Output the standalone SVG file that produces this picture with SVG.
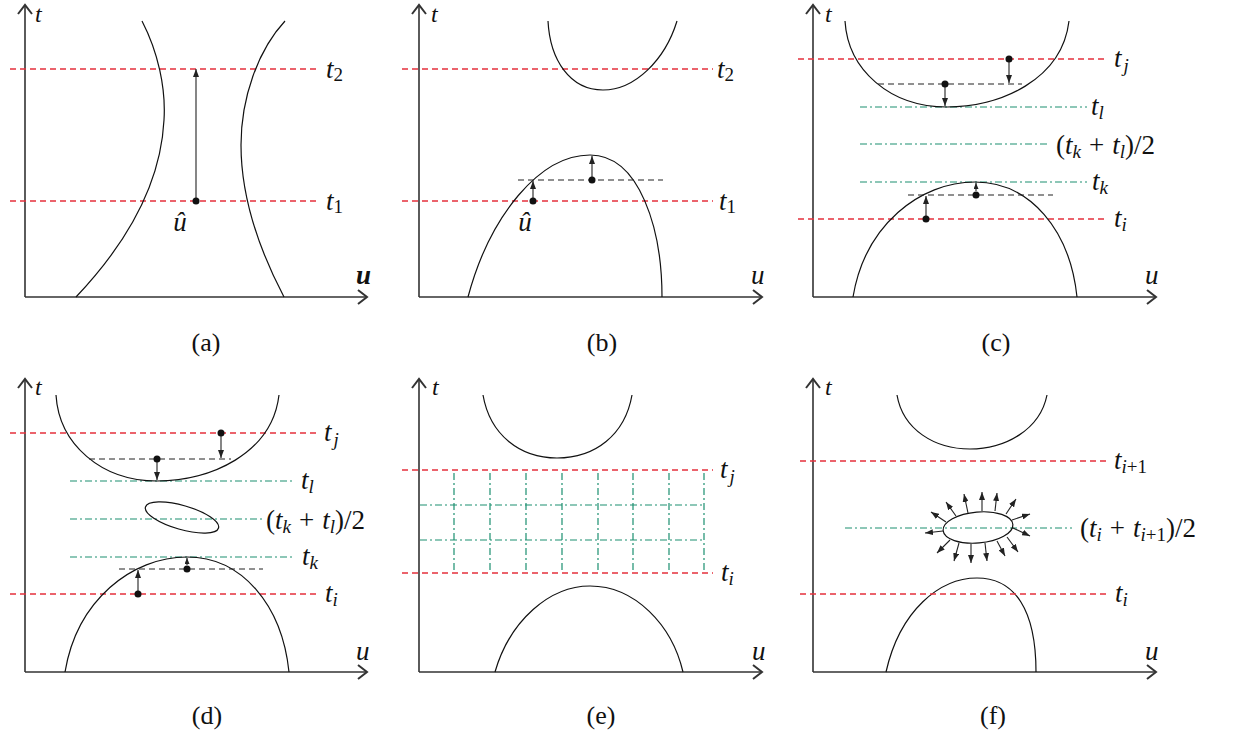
<svg xmlns="http://www.w3.org/2000/svg" width="1233" height="738" viewBox="0 0 1233 738">
<style>
.ax{stroke:#333;stroke-width:1.6;fill:none}
.ch{stroke:#333;stroke-width:2;fill:none;stroke-linejoin:miter}
.cv{stroke:#111;stroke-width:1.2;fill:none}
.rd{stroke:#e5303c;stroke-width:1.3;stroke-dasharray:6 4;fill:none}
.gn{stroke:#1c8f70;stroke-width:1.2;stroke-dasharray:7 3 2 3;fill:none}
.bk{stroke:#222;stroke-width:1.1;stroke-dasharray:6 4;fill:none}
.ar{stroke:#222;stroke-width:1.1;fill:none;marker-end:url(#ah)}
.as{stroke:#222;stroke-width:1.1;fill:none;marker-end:url(#ahs)}
.dot{fill:#111}
text{font-family:'Liberation Serif','Times New Roman','DejaVu Serif',serif;fill:#111}
.lb{font-style:italic;font-size:27px}
.at{font-style:italic;font-size:24px}
.sb{font-size:19px}
.up{font-style:normal}
.cap{font-size:26px;text-anchor:middle}
</style>
<defs>
<marker id="ah" viewBox="0 0 8 6" refX="8" refY="3" markerWidth="8" markerHeight="6" markerUnits="userSpaceOnUse" orient="auto"><path d="M0,0 L8,3 L0,6 z" fill="#222"/></marker>
<marker id="ahs" viewBox="0 0 6 5" refX="6" refY="2.5" markerWidth="6" markerHeight="5" markerUnits="userSpaceOnUse" orient="auto"><path d="M0,0 L6,2.5 L0,5 z" fill="#222"/></marker>
</defs>

<!-- Panel (a) -->
<g id="panel-a">
<line class="ax" x1="25" y1="297" x2="25" y2="6"/>
<polyline class="ch" points="18,14 25,5 32,14"/>
<line class="ax" x1="25" y1="297" x2="366" y2="297"/>
<polyline class="ch" points="358,290 367,297 358,304"/>
<text class="at" x="35" y="22">t</text>
<text class="lb" x="356" y="284" font-weight="bold">u</text>
<line class="rd" x1="10" y1="69" x2="318" y2="69"/>
<line class="rd" x1="10" y1="201" x2="318" y2="201"/>
<path class="cv" d="M142,21 C158,52 166,88 164,120 C161,180 130,240 76,297"/>
<path class="cv" d="M285,21 C258,50 241,98 241,145 C241,200 262,255 284,297"/>
<line class="ar" x1="196" y1="201" x2="196" y2="69"/>
<circle class="dot" cx="196" cy="201" r="3.5"/>
<text class="lb" x="180" y="231" text-anchor="middle">û</text>
<text class="lb" x="326" y="78">t<tspan class="sb up" dy="3">2</tspan></text>
<text class="lb" x="326" y="210">t<tspan class="sb up" dy="3">1</tspan></text>
<text class="cap" x="206" y="351">(a)</text>
</g>

<!-- Panel (b) -->
<g id="panel-b">
<line class="ax" x1="419" y1="297" x2="419" y2="6"/>
<polyline class="ch" points="412,14 419,5 426,14"/>
<line class="ax" x1="419" y1="297" x2="761" y2="297"/>
<polyline class="ch" points="753,290 762,297 753,304"/>
<text class="at" x="431" y="22">t</text>
<text class="lb" x="751" y="284">u</text>
<line class="rd" x1="402" y1="69" x2="713" y2="69"/>
<line class="rd" x1="402" y1="201" x2="713" y2="201"/>
<path class="cv" d="M548,21 C550,60 570,90 603,90 C635,90 665,60 677,21"/>
<path class="cv" d="M468,297 C490,215 540,155 590,155 C640,155 662,230 662,297"/>
<line class="bk" x1="518" y1="180" x2="663" y2="180"/>
<line class="ar" x1="533" y1="201" x2="533" y2="181"/>
<circle class="dot" cx="533" cy="201" r="3.5"/>
<line class="ar" x1="592" y1="180" x2="592" y2="156"/>
<circle class="dot" cx="592" cy="180" r="3.5"/>
<text class="lb" x="525" y="231" text-anchor="middle">û</text>
<text class="lb" x="717" y="78">t<tspan class="sb up" dy="3">2</tspan></text>
<text class="lb" x="719" y="210">t<tspan class="sb up" dy="3">1</tspan></text>
<text class="cap" x="602" y="351">(b)</text>
</g>

<!-- Panel (c) -->
<g id="panel-c">
<line class="ax" x1="813" y1="297" x2="813" y2="6"/>
<polyline class="ch" points="806,14 813,5 820,14"/>
<line class="ax" x1="813" y1="297" x2="1155" y2="297"/>
<polyline class="ch" points="1147,290 1156,297 1147,304"/>
<text class="at" x="825" y="22">t</text>
<text class="lb" x="1145" y="284">u</text>
<line class="rd" x1="798" y1="59" x2="1107" y2="59"/>
<line class="rd" x1="798" y1="219" x2="1107" y2="219"/>
<line class="gn" x1="860" y1="107" x2="1087" y2="107"/>
<line class="gn" x1="860" y1="144" x2="1050" y2="144"/>
<line class="gn" x1="860" y1="182" x2="1087" y2="182"/>
<path class="cv" d="M845,21 C848,70 890,107 947,107 C1000,107 1062,80 1069,21"/>
<path class="cv" d="M853,297 C865,225 920,182 975,182 C1030,182 1070,230 1077,297"/>
<line class="bk" x1="878" y1="84" x2="1022" y2="84"/>
<line class="bk" x1="908" y1="195" x2="1053" y2="195"/>
<line class="ar" x1="1009" y1="59" x2="1009" y2="83"/>
<circle class="dot" cx="1009" cy="59" r="3.5"/>
<line class="ar" x1="945" y1="84" x2="945" y2="106"/>
<circle class="dot" cx="945" cy="84" r="3.5"/>
<line class="ar" x1="926" y1="219" x2="926" y2="196"/>
<circle class="dot" cx="926" cy="219" r="3.5"/>
<line class="as" x1="976" y1="191" x2="976" y2="183"/>
<circle class="dot" cx="976" cy="195" r="3.5"/>
<text class="lb" x="1114" y="67">t<tspan class="sb" dx="2" dy="5">j</tspan></text>
<text class="lb" x="1091" y="115">t<tspan class="sb" dy="4">l</tspan></text>
<text class="lb" x="1056" y="154"><tspan class="up">(</tspan>t<tspan class="sb" dy="4">k</tspan><tspan class="up" dx="8" dy="-4">+</tspan><tspan dx="8">t</tspan><tspan class="sb" dy="4">l</tspan><tspan class="up" dy="-4">)/2</tspan></text>
<text class="lb" x="1092" y="190">t<tspan class="sb" dy="4">k</tspan></text>
<text class="lb" x="1114" y="227">t<tspan class="sb" dy="4">i</tspan></text>
<text class="cap" x="996" y="351">(c)</text>
</g>

<!-- Panel (d) -->
<g id="panel-d">
<line class="ax" x1="25" y1="672" x2="25" y2="380"/>
<polyline class="ch" points="18,388 25,379 32,388"/>
<line class="ax" x1="25" y1="672" x2="366" y2="672"/>
<polyline class="ch" points="358,665 367,672 358,679"/>
<text class="at" x="35" y="395">t</text>
<text class="lb" x="356" y="660">u</text>
<line class="rd" x1="10" y1="433" x2="318" y2="433"/>
<line class="rd" x1="10" y1="594" x2="318" y2="594"/>
<line class="gn" x1="70" y1="481" x2="295" y2="481"/>
<line class="gn" x1="70" y1="519" x2="262" y2="519"/>
<line class="gn" x1="70" y1="557" x2="295" y2="557"/>
<path class="cv" d="M56,395 C59,444 101,481 157,481 C210,481 272,454 279,395"/>
<path class="cv" d="M65,672 C77,600 132,557 187,557 C242,557 282,605 289,672"/>
<ellipse class="cv" cx="182" cy="517.5" rx="38" ry="12" transform="rotate(16 182 517.5)"/>
<line class="bk" x1="89" y1="459" x2="231" y2="459"/>
<line class="bk" x1="119" y1="569" x2="263" y2="569"/>
<line class="ar" x1="221" y1="433" x2="221" y2="458"/>
<circle class="dot" cx="221" cy="433" r="3.5"/>
<line class="ar" x1="157" y1="459" x2="157" y2="480"/>
<circle class="dot" cx="157" cy="459" r="3.5"/>
<line class="ar" x1="138" y1="594" x2="138" y2="570"/>
<circle class="dot" cx="138" cy="594" r="3.5"/>
<line class="as" x1="187" y1="565" x2="187" y2="558"/>
<circle class="dot" cx="187" cy="569" r="3.5"/>
<text class="lb" x="324" y="441">t<tspan class="sb" dx="2" dy="5">j</tspan></text>
<text class="lb" x="301" y="489">t<tspan class="sb" dy="4">l</tspan></text>
<text class="lb" x="266" y="529"><tspan class="up">(</tspan>t<tspan class="sb" dy="4">k</tspan><tspan class="up" dx="8" dy="-4">+</tspan><tspan dx="8">t</tspan><tspan class="sb" dy="4">l</tspan><tspan class="up" dy="-4">)/2</tspan></text>
<text class="lb" x="302" y="565">t<tspan class="sb" dy="4">k</tspan></text>
<text class="lb" x="325" y="602">t<tspan class="sb" dy="4">i</tspan></text>
<text class="cap" x="207" y="724">(d)</text>
</g>

<!-- Panel (e) -->
<g id="panel-e">
<line class="ax" x1="419" y1="672" x2="419" y2="380"/>
<polyline class="ch" points="412,388 419,379 426,388"/>
<line class="ax" x1="419" y1="672" x2="761" y2="672"/>
<polyline class="ch" points="753,665 762,672 753,679"/>
<text class="at" x="432" y="395">t</text>
<text class="lb" x="752" y="660">u</text>
<path class="cv" d="M483,395 C490,435 520,458 557,458 C595,458 625,435 632,395"/>
<path class="cv" d="M495,672 C510,620 550,586 590,586 C635,586 672,625 683,672"/>
<line class="gn" x1="420" y1="505" x2="705" y2="505"/>
<line class="gn" x1="420" y1="540" x2="705" y2="540"/>
<line class="gn" x1="454" y1="473" x2="454" y2="573"/>
<line class="gn" x1="490" y1="473" x2="490" y2="573"/>
<line class="gn" x1="526" y1="473" x2="526" y2="573"/>
<line class="gn" x1="562" y1="473" x2="562" y2="573"/>
<line class="gn" x1="598" y1="473" x2="598" y2="573"/>
<line class="gn" x1="633" y1="473" x2="633" y2="573"/>
<line class="gn" x1="669" y1="473" x2="669" y2="573"/>
<line class="gn" x1="704" y1="473" x2="704" y2="573"/>
<line class="rd" x1="402" y1="470" x2="713" y2="470"/>
<line class="rd" x1="402" y1="573" x2="713" y2="573"/>
<text class="lb" x="720" y="478">t<tspan class="sb" dx="2" dy="5">j</tspan></text>
<text class="lb" x="721" y="581">t<tspan class="sb" dy="4">i</tspan></text>
<text class="cap" x="601" y="724">(e)</text>
</g>

<!-- Panel (f) -->
<g id="panel-f">
<line class="ax" x1="813" y1="672" x2="813" y2="380"/>
<polyline class="ch" points="806,388 813,379 820,388"/>
<line class="ax" x1="813" y1="672" x2="1155" y2="672"/>
<polyline class="ch" points="1147,665 1156,672 1147,679"/>
<text class="at" x="825" y="395">t</text>
<text class="lb" x="1145" y="660">u</text>
<path class="cv" d="M897,395 C903,430 935,449 970,449 C1005,449 1040,430 1047,395"/>
<path class="cv" d="M886,672 C900,610 940,578 977,578 C1015,578 1036,610 1036,672"/>
<line class="rd" x1="800" y1="461" x2="1107" y2="461"/>
<line class="rd" x1="800" y1="594" x2="1107" y2="594"/>
<line class="gn" x1="845" y1="528" x2="1072" y2="528"/>
<ellipse class="cv" cx="978" cy="527.5" rx="35" ry="15.5" transform="rotate(-5 978 527.5)"/>
<g id="normals">
<line class="ar" x1="946" y1="522" x2="931" y2="512"/>
<line class="ar" x1="956" y1="516" x2="946" y2="502"/>
<line class="ar" x1="968" y1="513" x2="964" y2="494"/>
<line class="ar" x1="982" y1="511" x2="982" y2="492"/>
<line class="ar" x1="995" y1="511" x2="997" y2="493"/>
<line class="ar" x1="1006" y1="514" x2="1016" y2="499"/>
<line class="ar" x1="1012" y1="520" x2="1030" y2="514"/>
<line class="ar" x1="1013" y1="528" x2="1030" y2="536"/>
<line class="ar" x1="1007" y1="537" x2="1018" y2="552"/>
<line class="ar" x1="997" y1="541" x2="1005" y2="556"/>
<line class="ar" x1="985" y1="543" x2="987" y2="561"/>
<line class="ar" x1="971" y1="544" x2="971" y2="563"/>
<line class="ar" x1="959" y1="543" x2="954" y2="561"/>
<line class="ar" x1="950" y1="540" x2="937" y2="553"/>
<line class="ar" x1="943" y1="531" x2="925" y2="533"/>
</g>
<text class="lb" x="1114" y="469">t<tspan class="sb" dy="4">i</tspan><tspan class="sb up">+1</tspan></text>
<text class="lb" x="1080" y="537"><tspan class="up">(</tspan>t<tspan class="sb" dy="4">i</tspan><tspan class="up" dx="8" dy="-4">+</tspan><tspan dx="8">t</tspan><tspan class="sb" dy="4">i</tspan><tspan class="sb up">+1</tspan><tspan class="up" dy="-4">)/2</tspan></text>
<text class="lb" x="1115" y="602">t<tspan class="sb" dy="4">i</tspan></text>
<text class="cap" x="993" y="724">(f)</text>
</g>
</svg>
